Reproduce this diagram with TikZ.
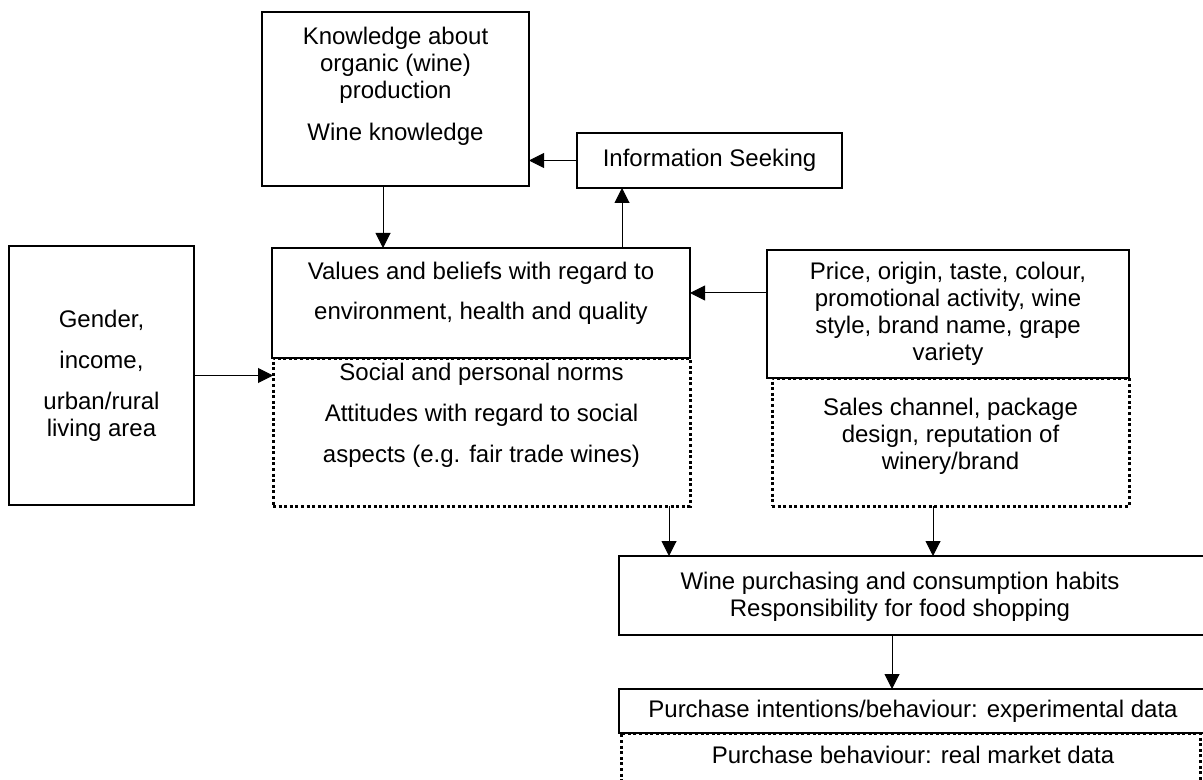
\documentclass[tikz,border=0pt]{standalone}
\usepackage{fontspec}
\setmainfont{Liberation Sans}
\usetikzlibrary{arrows.meta}

\tikzset{
  txt/.style={align=center, inner sep=0pt, font=\fontsize{12}{13.5}\selectfont},
  box/.style={txt, draw=black, line width=1pt, outer sep=0pt},
  dotbox/.style={box, line width=1.5pt, dash pattern=on 1.5pt off 1.3pt},
  link/.style={-{Triangle[length=7.5pt,width=7.5pt]}, line width=0.5pt},
}

\begin{document}
\begin{tikzpicture}[x=0.5pt,y=-0.5pt]

%SPACING
\useasboundingbox (0,0) rectangle (1203,780);
%SPACING

\node[box, minimum width=133.5pt, minimum height=87pt,
  label={[txt,yshift=6.25pt]center:{Knowledge about\\organic (wine)\\production\\[7.5pt]Wine knowledge}}](know) at (395.5,99) {};
\node[box, minimum width=132.5pt, minimum height=27.5pt](info) at (709.5,160.5) {Information Seeking};

\node[box, minimum width=209pt, minimum height=55pt,
  label={[txt,yshift=4.75pt]center:{Values and beliefs with regard to\\[6.5pt]environment, health and quality}}](values) at (481,303) {};
\node[dotbox, minimum width=208.5pt, minimum height=74pt,
  label={[txt,yshift=8.5pt]center:{Social and personal norms\\[7pt]Attitudes with regard to social\\[7pt]aspects (e.g. fair trade wines)}}](norms) at (481.5,432) {};

\node[box, minimum width=92.5pt, minimum height=129.5pt](socio) at (101.5,375.5) {Gender,\\[7pt]income,\\[7pt]urban/rural\\living area};

\node[box, minimum width=181pt, minimum height=64pt](price) at (948,314) {Price, origin, taste, colour,\\promotional activity, wine\\style, brand name, grape\\variety};
\node[dotbox, minimum width=178.5pt, minimum height=64pt,
  label={[txt,yshift=3pt]center:{Sales channel, package\\design, reputation of\\winery/brand}}](sales) at (950.5,442) {};

\node[box, minimum width=298pt, minimum height=39.5pt,
  label={[txt,xshift=-8.5pt,yshift=-0.75pt]center:{Wine purchasing and consumption habits\\Responsibility for food shopping}}](habits) at (917,595.5) {};
\node[dotbox, minimum width=289.5pt, minimum height=33.5pt,
  label={[txt,xshift=1.25pt,yshift=5.75pt]center:{Purchase behaviour: real market data}}](market) at (910.5,766.5) {};
\node[box, minimum width=298pt, minimum height=22pt,
  label={[txt,xshift=-2pt]center:{Purchase intentions/behaviour: experimental data}}](intent) at (917,711) {};

%ARROWS
\coordinate (up) at ([xshift=22.5pt]info.south west);
\coordinate (down) at ([xshift=93.75pt]norms.south);

\draw[link] (info.west) -- (info.west -| know.east);
\draw[link] ([xshift=-6.25pt]know.south) -- ([xshift=-6.25pt]know.south |- values.north);
\draw[link] (up |- values.north) -- (up);

\draw[link] (socio.east) -- (socio.east -| norms.west);
\draw[link] ([yshift=10.5pt]price.west) -- ([yshift=10.5pt]price.west -| values.east);

\draw[link] (down) -- (down |- habits.north);
\draw[link] ([xshift=-8.75pt]sales.south) -- ([xshift=-8.75pt]sales.south |- habits.north);
\draw[link] ([xshift=-12.5pt]habits.south) -- ([xshift=-12.5pt]habits.south |- intent.north);

\end{tikzpicture}
\end{document}
